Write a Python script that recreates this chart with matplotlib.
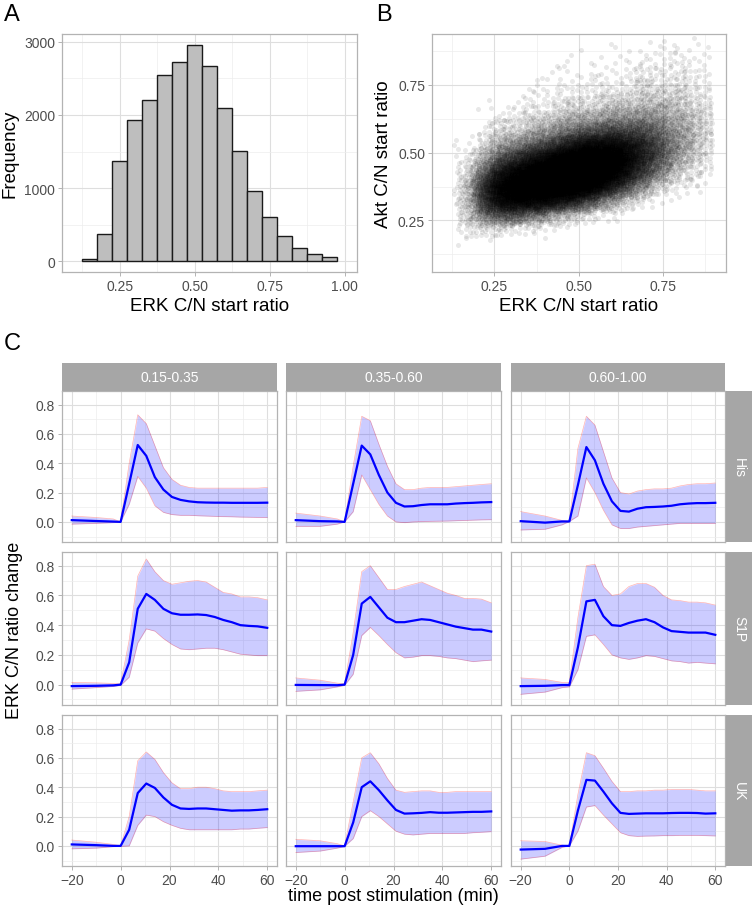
import matplotlib
matplotlib.use("Agg")
import matplotlib.pyplot as plt
import numpy as np
from matplotlib.ticker import MultipleLocator, FormatStrFormatter

plt.rcParams['font.family'] = ['Liberation Sans', 'DejaVu Sans']

# ---- panel A: histogram of ERK C/N start ratio ----
hist_centers = [0.15, 0.20, 0.25, 0.30, 0.35, 0.40, 0.45, 0.50, 0.55,
                0.60, 0.65, 0.70, 0.75, 0.80, 0.85, 0.90, 0.95]
hist_counts = [25, 370, 1370, 1930, 2210, 2550, 2730, 2960, 2670,
               2100, 1510, 960, 600, 350, 180, 100, 60]

# ---- panel B: point counts per 0.05 x 0.05 cell (ERK start, Akt start) ----
erk_bins = [0.15, 0.20, 0.25, 0.30, 0.35, 0.40, 0.45, 0.50,
            0.55, 0.60, 0.65, 0.70, 0.75, 0.80, 0.85]
akt_bins = [0.15, 0.20, 0.25, 0.30, 0.35, 0.40, 0.45, 0.50,
            0.55, 0.60, 0.65, 0.70, 0.75, 0.80, 0.85]
cell_counts = [
    [3, 15, 35, 50, 50, 30, 12, 5, 0, 0, 0, 0, 0, 0, 0],
    [2, 25, 120, 220, 240, 150, 70, 30, 10, 3, 0, 0, 0, 0, 0],
    [0, 20, 170, 400, 460, 330, 160, 70, 28, 10, 2, 0, 0, 0, 0],
    [0, 12, 150, 450, 580, 470, 250, 105, 40, 15, 5, 2, 0, 0, 0],
    [0, 8, 110, 420, 640, 600, 350, 150, 60, 25, 10, 5, 2, 0, 0],
    [0, 4, 70, 360, 650, 720, 480, 210, 85, 35, 15, 7, 3, 1, 0],
    [0, 0, 40, 280, 620, 780, 620, 300, 120, 50, 22, 10, 5, 2, 1],
    [0, 0, 20, 180, 500, 760, 700, 400, 150, 60, 25, 10, 5, 2, 1],
    [0, 0, 8, 100, 340, 580, 640, 420, 180, 70, 30, 12, 6, 3, 1],
    [0, 0, 3, 45, 190, 380, 470, 380, 190, 80, 35, 15, 7, 3, 2],
    [0, 0, 0, 18, 90, 210, 290, 280, 170, 90, 45, 20, 10, 5, 2],
    [0, 0, 0, 5, 35, 100, 160, 170, 130, 80, 45, 25, 15, 8, 4],
    [0, 0, 0, 0, 12, 45, 80, 95, 85, 60, 40, 25, 15, 10, 6],
    [0, 0, 0, 0, 4, 18, 35, 48, 50, 40, 28, 18, 12, 7, 5],
    [0, 0, 0, 0, 2, 8, 15, 22, 24, 22, 17, 12, 8, 5, 3],
]

# ---- panel C: time courses ----
start_bins = ["0.15-0.35", "0.35-0.60", "0.60-1.00"]
stimuli = ["His", "S1P", "UK"]
times = [-20, -10, -3, 0, 3.5, 7, 10.5, 14, 17.5, 21, 24.5, 28, 31.5, 35,
         38.5, 42, 45.5, 49, 52.5, 56, 60]

his_mean = [
    [0.012, 0.006, 0.002, 0.0, 0.26, 0.524, 0.45, 0.305, 0.22, 0.17, 0.15, 0.14, 0.134, 0.132, 0.131, 0.131, 0.13, 0.13, 0.13, 0.13, 0.131],
    [0.012, 0.005, 0.003, 0.0, 0.26, 0.52, 0.46, 0.32, 0.2, 0.13, 0.105, 0.107, 0.115, 0.12, 0.12, 0.12, 0.125, 0.128, 0.13, 0.133, 0.135],
    [0.005, -0.005, 0.003, 0.003, 0.25, 0.51, 0.42, 0.26, 0.14, 0.075, 0.07, 0.09, 0.1, 0.102, 0.105, 0.11, 0.12, 0.125, 0.128, 0.128, 0.13],
]
his_upper = [
    [0.04, 0.03, 0.02, 0.0, 0.4, 0.73, 0.67, 0.52, 0.37, 0.29, 0.25, 0.235, 0.23, 0.23, 0.23, 0.23, 0.23, 0.23, 0.23, 0.23, 0.235],
    [0.06, 0.04, 0.02, 0.0, 0.38, 0.72, 0.69, 0.53, 0.38, 0.26, 0.22, 0.22, 0.23, 0.235, 0.235, 0.235, 0.24, 0.245, 0.25, 0.255, 0.26],
    [0.07, 0.04, 0.01, 0.003, 0.5, 0.72, 0.66, 0.48, 0.3, 0.2, 0.19, 0.21, 0.22, 0.225, 0.225, 0.23, 0.245, 0.255, 0.26, 0.26, 0.265],
]
his_lower = [
    [-0.015, -0.01, -0.005, 0.0, 0.12, 0.31, 0.23, 0.11, 0.065, 0.05, 0.045, 0.045, 0.042, 0.04, 0.038, 0.036, 0.035, 0.033, 0.032, 0.031, 0.03],
    [-0.03, -0.03, -0.015, 0.0, 0.07, 0.32, 0.22, 0.12, 0.04, 0.0, -0.005, 0.0, 0.002, 0.004, 0.005, 0.006, 0.008, 0.01, 0.012, 0.014, 0.015],
    [-0.055, -0.05, -0.02, 0.003, 0.04, 0.3, 0.2, 0.08, -0.02, -0.045, -0.045, -0.035, -0.03, -0.025, -0.02, -0.015, -0.01, -0.01, -0.01, -0.01, -0.01],
]
s1p_mean = [
    [-0.01, -0.008, -0.005, 0.0, 0.15, 0.51, 0.61, 0.57, 0.51, 0.48, 0.47, 0.47, 0.472, 0.468, 0.455, 0.435, 0.42, 0.4, 0.395, 0.392, 0.382],
    [-0.002, -0.003, -0.004, 0.0, 0.2, 0.545, 0.59, 0.52, 0.45, 0.42, 0.42, 0.43, 0.44, 0.435, 0.42, 0.405, 0.39, 0.38, 0.37, 0.37, 0.357],
    [-0.01, -0.008, -0.003, -0.003, 0.25, 0.56, 0.57, 0.46, 0.4, 0.395, 0.415, 0.43, 0.44, 0.42, 0.385, 0.36, 0.355, 0.35, 0.35, 0.35, 0.335],
]
s1p_upper = [
    [0.015, 0.012, 0.008, 0.005, 0.3, 0.73, 0.845, 0.76, 0.7, 0.675, 0.685, 0.695, 0.7, 0.69, 0.655, 0.62, 0.61, 0.59, 0.59, 0.585, 0.57],
    [0.045, 0.03, 0.01, 0.005, 0.35, 0.76, 0.8, 0.72, 0.64, 0.64, 0.66, 0.675, 0.69, 0.665, 0.64, 0.615, 0.6, 0.58, 0.58, 0.575, 0.55],
    [0.045, 0.035, 0.015, 0.015, 0.45, 0.8, 0.81, 0.66, 0.6, 0.61, 0.66, 0.68, 0.68, 0.655, 0.6, 0.57, 0.565, 0.555, 0.555, 0.55, 0.535],
]
s1p_lower = [
    [-0.03, -0.02, -0.012, -0.005, 0.05, 0.28, 0.375, 0.36, 0.31, 0.27, 0.24, 0.235, 0.24, 0.245, 0.245, 0.235, 0.22, 0.205, 0.2, 0.195, 0.195],
    [-0.045, -0.035, -0.015, -0.005, 0.07, 0.33, 0.385, 0.33, 0.27, 0.215, 0.18, 0.185, 0.195, 0.195, 0.19, 0.18, 0.175, 0.165, 0.155, 0.16, 0.165],
    [-0.065, -0.05, -0.02, -0.015, 0.1, 0.325, 0.335, 0.27, 0.2, 0.18, 0.17, 0.18, 0.195, 0.19, 0.175, 0.16, 0.155, 0.145, 0.15, 0.145, 0.14],
]
uk_mean = [
    [0.01, 0.005, 0.0, 0.0, 0.11, 0.36, 0.425, 0.395, 0.33, 0.28, 0.255, 0.252, 0.255, 0.255, 0.25, 0.245, 0.24, 0.242, 0.242, 0.245, 0.25],
    [-0.002, -0.002, -0.002, -0.002, 0.16, 0.4, 0.44, 0.38, 0.31, 0.245, 0.22, 0.222, 0.225, 0.23, 0.226, 0.226, 0.228, 0.23, 0.232, 0.232, 0.235],
    [-0.025, -0.02, 0.0, 0.0, 0.24, 0.45, 0.445, 0.37, 0.29, 0.225, 0.218, 0.22, 0.222, 0.222, 0.222, 0.224, 0.225, 0.225, 0.224, 0.22, 0.222],
]
uk_upper = [
    [0.04, 0.025, 0.01, 0.0, 0.2, 0.58, 0.64, 0.59, 0.5, 0.43, 0.39, 0.39, 0.4, 0.4, 0.39, 0.375, 0.37, 0.37, 0.37, 0.375, 0.38],
    [0.045, 0.035, 0.015, 0.0, 0.3, 0.6, 0.635, 0.56, 0.46, 0.38, 0.365, 0.37, 0.375, 0.375, 0.365, 0.365, 0.37, 0.37, 0.37, 0.37, 0.37],
    [0.035, 0.03, 0.005, 0.0, 0.35, 0.635, 0.615, 0.53, 0.44, 0.37, 0.37, 0.375, 0.375, 0.38, 0.38, 0.385, 0.385, 0.385, 0.38, 0.375, 0.375],
]
uk_lower = [
    [-0.02, -0.015, -0.005, -0.003, 0.0, 0.14, 0.21, 0.2, 0.165, 0.14, 0.12, 0.11, 0.11, 0.11, 0.11, 0.11, 0.11, 0.115, 0.115, 0.12, 0.125],
    [-0.045, -0.035, -0.015, -0.003, 0.05, 0.2, 0.24, 0.2, 0.15, 0.1, 0.08, 0.075, 0.08, 0.085, 0.085, 0.085, 0.085, 0.085, 0.09, 0.093, 0.097],
    [-0.09, -0.07, -0.01, 0.0, 0.1, 0.265, 0.275, 0.21, 0.15, 0.09, 0.07, 0.065, 0.067, 0.068, 0.07, 0.07, 0.072, 0.072, 0.072, 0.07, 0.068],
]

W, H = 755, 912
BORDER = "#B3B3B3"
GRID_MAJ = "#DEDEDE"
GRID_MIN = "#EDEDED"
TICKTXT = "#4D4D4D"
STRIP = "#A6A6A6"

fig = plt.figure(figsize=(W / 100, H / 100), dpi=100)


def px_axes(x0, y0, x1, y1):
    return fig.add_axes([x0 / W, 1 - y1 / H, (x1 - x0) / W, (y1 - y0) / H])


def light_theme(ax, tick_size=10):
    for s in ax.spines.values():
        s.set_color(BORDER)
        s.set_linewidth(0.9)
    ax.set_axisbelow(True)
    ax.grid(which="major", color=GRID_MAJ, lw=0.8)
    ax.grid(which="minor", color=GRID_MIN, lw=0.5)
    ax.tick_params(which="major", length=3, width=0.7, color=BORDER,
                   labelcolor=TICKTXT, labelsize=tick_size, pad=2)
    ax.tick_params(which="minor", length=0)


def tent(u):
    # inverse cdf of a triangular spread on [-1, 1]
    return np.where(u < 0.5, np.sqrt(2 * u) - 1, 1 - np.sqrt(2 * (1 - u)))


# A: histogram
axA = px_axes(62, 35, 357, 273)
axA.bar(hist_centers, hist_counts, width=0.05, color="#BEBEBE",
        edgecolor="#1A1A1A", lw=1.0, zorder=2)
axA.set_xlim(0.058, 1.041)
axA.set_ylim(-148, 3108)
axA.xaxis.set_major_locator(MultipleLocator(0.25))
axA.xaxis.set_minor_locator(MultipleLocator(0.125))
axA.xaxis.set_major_formatter(FormatStrFormatter("%.2f"))
axA.yaxis.set_major_locator(MultipleLocator(1000))
axA.yaxis.set_minor_locator(MultipleLocator(500))
light_theme(axA)
axA.set_xlabel("ERK C/N start ratio", fontsize=13.5, labelpad=3)
axA.set_ylabel("Frequency", fontsize=13.5, labelpad=4)

# B: scatter, each cell's points spread evenly around its centre
g = 1.32471795724
w = 0.05
pts_x, pts_y = [], []
k = 0
for i, x0 in enumerate(erk_bins):
    for j, y0 in enumerate(akt_bins):
        n = cell_counts[i][j]
        idx = np.arange(n) + k * 101
        u = (0.31 + idx / g) % 1.0
        v = (0.67 + idx / g ** 2) % 1.0
        pts_x.append(x0 + w / 2 + w * tent(u))
        pts_y.append(y0 + w / 2 + w * tent(v))
        k += 1
pts_x = np.concatenate(pts_x)
pts_y = np.concatenate(pts_y)
keep = pts_x < 0.9
pts_x, pts_y = pts_x[keep], pts_y[keep]

axB = px_axes(432, 35, 726, 273)
axB.scatter(pts_x, pts_y, s=13, color="black", alpha=0.09, lw=0, zorder=2)
axB.set_xlim(0.065, 0.936)
axB.set_ylim(0.06, 0.938)
for axis in (axB.xaxis, axB.yaxis):
    axis.set_major_locator(MultipleLocator(0.25))
    axis.set_minor_locator(MultipleLocator(0.125))
    axis.set_major_formatter(FormatStrFormatter("%.2f"))
light_theme(axB)
axB.set_xlabel("ERK C/N start ratio", fontsize=13.5, labelpad=3)
axB.set_ylabel("Akt C/N start ratio", fontsize=13.5, labelpad=4)

# C: faceted time courses
col_x = [(62, 277), (286, 501), (511, 725)]
row_y = [(392, 543), (553, 706), (716, 867)]
series = {"His": (his_mean, his_upper, his_lower),
          "S1P": (s1p_mean, s1p_upper, s1p_lower),
          "UK": (uk_mean, uk_upper, uk_lower)}

for r, stim in enumerate(stimuli):
    mean, upper, lower = series[stim]
    for c, label in enumerate(start_bins):
        x0, x1 = col_x[c]
        y0, y1 = row_y[r]
        ax = px_axes(x0, y0, x1, y1)
        ax.fill_between(times, lower[c], upper[c], color="blue", alpha=0.2,
                        lw=0, zorder=2)
        ax.plot(times, upper[c], color="red", alpha=0.3, lw=0.5, zorder=2)
        ax.plot(times, lower[c], color="red", alpha=0.3, lw=0.5, zorder=2)
        ax.plot(times, mean[c], color="blue", lw=1.6, zorder=3)
        ax.set_xlim(-24, 64)
        ax.set_ylim(-0.137, 0.892)
        ax.xaxis.set_major_locator(MultipleLocator(20))
        ax.xaxis.set_minor_locator(MultipleLocator(10))
        ax.yaxis.set_major_locator(MultipleLocator(0.2))
        ax.yaxis.set_minor_locator(MultipleLocator(0.1))
        ax.yaxis.set_major_formatter(FormatStrFormatter("%.1f"))
        light_theme(ax)
        if c > 0:
            ax.tick_params(axis="y", labelleft=False, length=0)
        if r < 2:
            ax.tick_params(axis="x", labelbottom=False, length=0)
        if r == 0:
            st = px_axes(x0, 364, x1, 392)
            st.set_facecolor(STRIP)
            st.set_xticks([])
            st.set_yticks([])
            for s in st.spines.values():
                s.set_visible(False)
            st.text(0.5, 0.5, label, color="white", fontsize=10,
                    ha="center", va="center", transform=st.transAxes)
        if c == 2:
            st = px_axes(726, y0, 752, y1)
            st.set_facecolor(STRIP)
            st.set_xticks([])
            st.set_yticks([])
            for s in st.spines.values():
                s.set_visible(False)
            st.text(0.5, 0.5, stim, color="white", fontsize=10, rotation=-90,
                    ha="center", va="center", transform=st.transAxes)

fig.text(15 / W, 1 - 630 / H, "ERK C/N ratio change", rotation=90,
         fontsize=13, ha="center", va="center")
fig.text(393 / W, 1 - 897 / H, "time post stimulation (min)",
         fontsize=13, ha="center", va="center")

fig.text(4 / W, 1 - 15 / H, "A", fontsize=17, ha="left", va="center")
fig.text(376 / W, 1 - 15 / H, "B", fontsize=17, ha="left", va="center")
fig.text(4 / W, 1 - 344 / H, "C", fontsize=17, ha="left", va="center")

fig.savefig("out.png", dpi=100)
